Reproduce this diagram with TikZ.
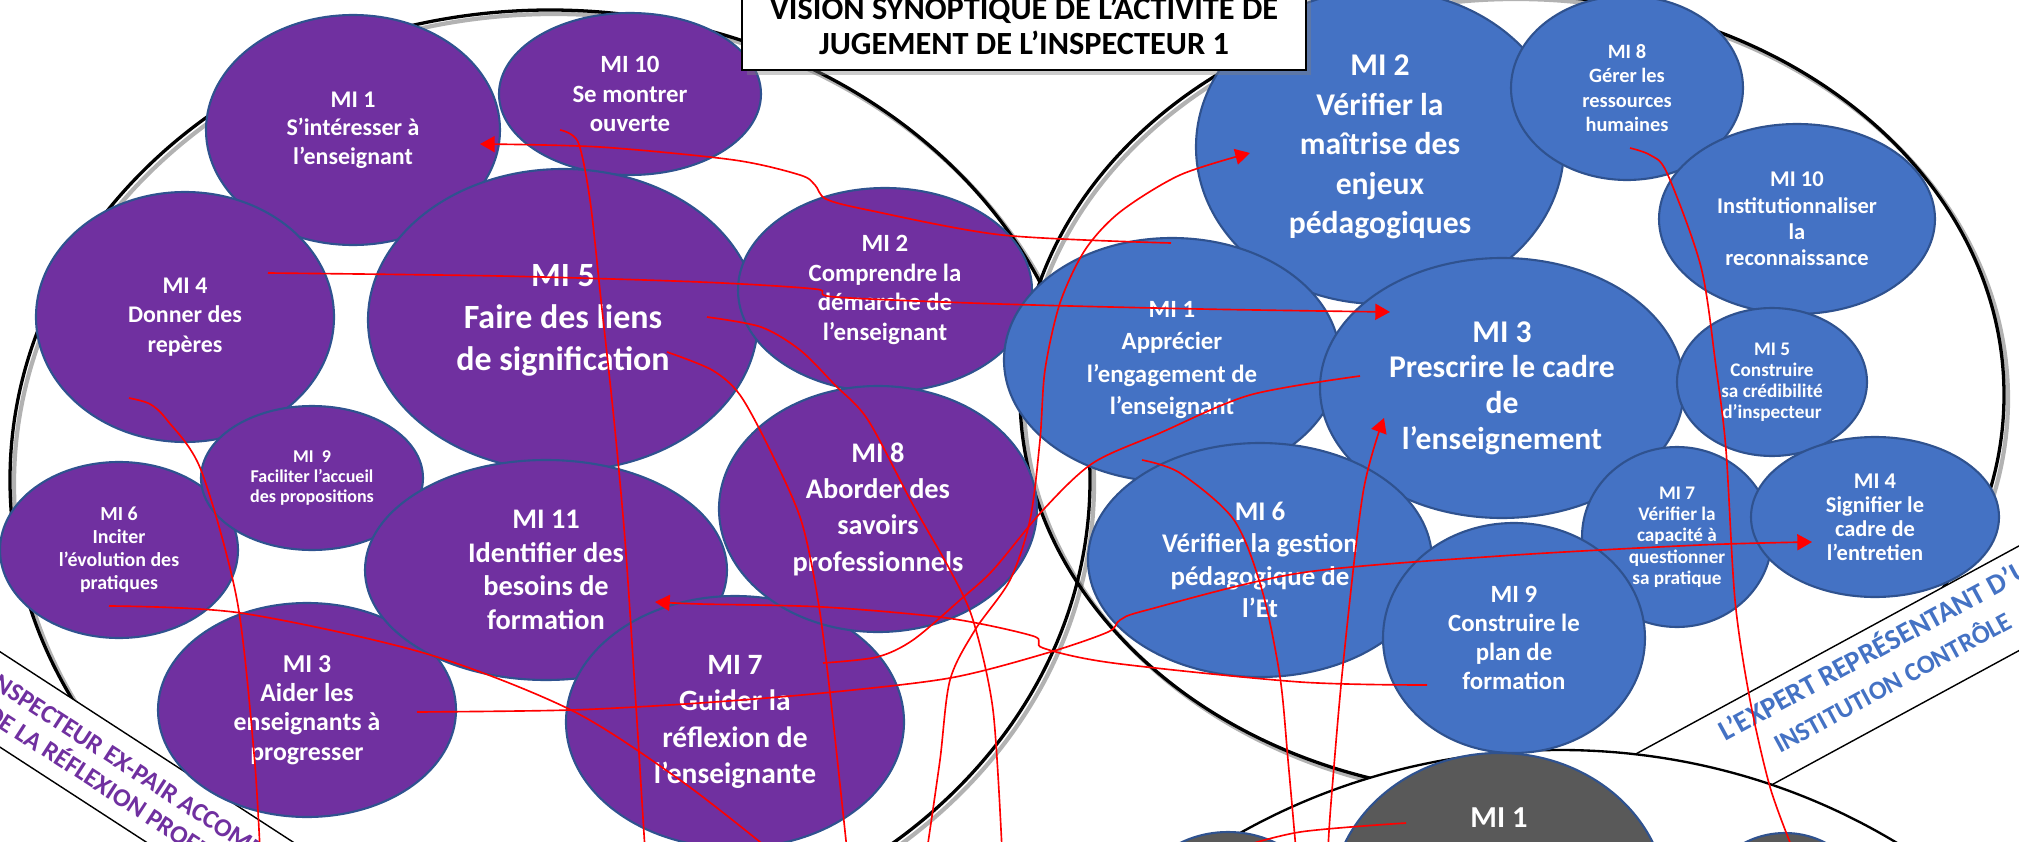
\documentclass[tikz,border=0pt]{standalone}
\usepackage{fontspec}
\setmainfont{Carlito}
\usetikzlibrary{shapes.geometric,arrows.meta,shadows}
\definecolor{purp}{HTML}{7030A0}
\definecolor{blu}{HTML}{4472C4}
\definecolor{gry}{HTML}{595959}
\definecolor{bord}{HTML}{2F528F}
\newdimen\pxu \pxu=0.015cm
\newcommand\fz[2]{\fontsize{#1}{#2}\selectfont\bfseries}

\begin{document}
\begin{tikzpicture}[x=0.015cm,y=-0.015cm,
  mi/.style={ellipse,draw=bord,line width=0.9pt,text=white,align=center,inner sep=0pt},
  pn/.style 2 args={mi,fill=purp,minimum width=#1*\pxu,minimum height=#2*\pxu},
  bn/.style 2 args={mi,fill=blu,minimum width=#1*\pxu,minimum height=#2*\pxu},
  gn/.style 2 args={mi,fill=gry,minimum width=#1*\pxu,minimum height=#2*\pxu},
  big/.style={line width=1.4pt},
  shd/.style={line width=1.8pt,black,opacity=.3,shift={(4,4)}},
  link/.style={red,line width=0.7pt},
  arr/.style={link,-{Triangle[length=0.22cm,width=0.24cm]}},
  band/.style={draw,fill=white,line width=0.6pt,inner sep=0pt,align=center}]
\useasboundingbox (0,0) rectangle (2019,842);
\clip (0,0) rectangle (2019,842);

\draw[shd] (550,480) ellipse [x radius=540,y radius=470];
\draw[shd] (1512,395) ellipse [x radius=492,y radius=400];
\draw[big] (550,480) ellipse [x radius=540,y radius=470];
\draw[big] (1512,395) ellipse [x radius=492,y radius=400];

\node[band,rotate=-33,minimum width=900*\pxu,minimum height=80*\pxu,text=purp,font=\fz{11}{12.8}] (lb) at (161,804) {L’INSPECTEUR EX-PAIR ACCOMPAGNATEUR\\DE LA RÉFLEXION PROFESSIONNELLE};
\node[band,rotate=28.5,minimum width=700*\pxu,minimum height=92*\pxu] (rb) at (1920,652) {};
\node[rotate=28.5,anchor=base west,inner sep=0pt,text=blu,font=\fz{12.3}{14}] (rb1) at (1725,742) {L’EXPERT REPRÉSENTANT D’UNE};
\node[rotate=28.5,anchor=base west,inner sep=0pt,text=blu,font=\fz{11.2}{14}] (rb2) at (1780,754) {INSTITUTION CONTRÔLE};

\draw[fill=white,line width=1pt] (1560,1350) ellipse [x radius=630,y radius=600];

\node[pn={294}{230},font=\fz{10.2}{12.2}] (p1) at (353,130) {MI 1\\S’intéresser à\\l’enseignant};
\node[pn={262}{162},font=\fz{10.6}{12.6}] (p10) at (630,94) {MI 10\\Se montrer\\ouverte};
\node[pn={298}{250},font=\fz{10.2}{12.6}] (p4) at (185,317) {MI 4\\Donner des\\repères};
\node[pn={390}{302},font=\fz{14.5}{17.9}] (p5) at (563,320) {MI 5\\Faire des liens\\de signification};
\node[pn={294}{204},font=\fz{10.6}{12.7}] (p2) at (885,290) {MI 2\\Comprendre la\\démarche de\\l’enseignant};
\node[pn={238}{176},font=\fz{8.5}{9.8}] (p6) at (119,550) {MI 6\\Inciter\\l’évolution des\\pratiques};
\node[pn={222}{144},font=\fz{7.7}{8.5}] (p9) at (312,478) {MI~~9\\Faciliter l’accueil\\des propositions};
\node[pn={298}{214},font=\fz{11}{12.5}] (p3) at (307,710) {MI 3\\Aider les\\enseignants à\\progresser};
\node[pn={362}{220},font=\fz{12.1}{14.3}] (p11) at (546,570) {MI 11\\Identifier des\\besoins de\\formation};
\node[pn={338}{252},font=\fz{12.6}{15.5}] (p7) at (735,722) {MI 7\\Guider la\\réflexion de\\l’enseignante};
\node[pn={318}{246},font=\fz{12.1}{15.5}] (p8) at (878,509) {MI 8\\Aborder des\\savoirs\\professionnels};

\node[bn={368}{314},font=\fz{13.5}{16.9}] (b2) at (1380,147) {MI 2\\Vérifier la\\maîtrise des\\enjeux\\pédagogiques};
\node[bn={232}{184},font=\fz{8.7}{10.5}] (b8) at (1627,88) {MI 8\\Gérer les\\ressources\\humaines};
\node[bn={276}{190},font=\fz{9.6}{11.2}] (b10) at (1797,219) {MI 10\\Institutionnaliser\\la\\reconnaissance};
\node[bn={336}{244},font=\fz{10.6}{13.7}] (b1) at (1172,360) {MI 1\\Apprécier\\l’engagement de\\l’enseignant};
\node[bn={364}{260},font=\fz{13.5}{15.2}] (b3) at (1502,388) {MI 3\\Prescrire le cadre\\de\\l’enseignement};
\node[bn={190}{148},font=\fz{8.2}{9}] (b5) at (1772,382) {MI 5\\Construire\\sa crédibilité\\d’inspecteur};
\node[bn={344}{234},font=\fz{11.5}{13.8}] (b6) at (1260,560) {MI 6\\Vérifier la gestion\\pédagogique de\\l’Et};
\node[bn={190}{180},font=\fz{8.2}{9.1}] (b7) at (1677,537) {MI 7\\Vérifier la\\capacité à\\questionner\\sa pratique};
\node[bn={262}{230},font=\fz{10.6}{12.4}] (b9) at (1514,638) {MI 9\\Construire le\\plan de\\formation};
\node[bn={248}{160},font=\fz{9.6}{10.2}] (b4) at (1875,517) {MI 4\\Signifier le\\cadre de\\l’entretien};

\node[gn={200}{180}] (g2) at (1228,922) {};
\node[gn={180}{184}] (g3) at (1785,925) {};
\node[gn={336}{300}] (g1) at (1499,903) {};
\node[text=white,font=\fz{13}{15}] (g1t) at (1499,818) {MI 1};

\coordinate (l1a) at (1171,243); \coordinate (l1b) at (480,144);
\coordinate (l2a) at (268,273);  \coordinate (l2b) at (1390,312);
\coordinate (l3a) at (560,130);  \coordinate (l3b) at (645,850);
\coordinate (l4a) at (707,317);  \coordinate (l4b) at (1002,850);
\coordinate (l5a) at (667,352);  \coordinate (l5b) at (847,850);
\coordinate (l6a) at (129,398);  \coordinate (l6b) at (260,850);
\coordinate (l7a) at (109,606);  \coordinate (l7b) at (770,850);
\coordinate (l8a) at (417,712);  \coordinate (l8b) at (1812,542);
\coordinate (l9a) at (1427,685); \coordinate (l9b) at (655,602);
\coordinate (l10a) at (927,850); \coordinate (l10b) at (1250,153);
\coordinate (l11a) at (823,663); \coordinate (l11b) at (1360,376);
\coordinate (l12a) at (1142,460); \coordinate (l12b) at (1296,850);
\coordinate (l13a) at (1328,850); \coordinate (l13b) at (1384,418);
\coordinate (l14a) at (1230,850); \coordinate (l14b) at (1406,823);
\coordinate (l15a) at (1630,148); \coordinate (l15b) at (1793,850);

\draw[arr] plot[smooth] coordinates {(l1a) (1002,235) (868,210) (826,199) (815,185) (800,175) (734,160) (600,147) (l1b)};
\draw[arr] plot[smooth] coordinates {(l2a) (500,276) (700,282) (815,289) (835,297) (1000,304) (1200,309) (l2b)};
\draw[link] plot[smooth] coordinates {(l3a) (578,142) (590,200) (601,300) (614,420) (625,540) (635,690) (l3b)};
\draw[link] plot[smooth] coordinates {(l4a) (761,327) (800,350) (835,385) (868,420) (912,503) (950,570) (973,620) (993,710) (l4b)};
\draw[link] plot[smooth] coordinates {(l5a) (712,370) (740,395) (770,450) (801,520) (818,600) (830,693) (l5b)};
\draw[link] plot[smooth] coordinates {(l6a) (150,404) (167,420) (201,470) (237,600) (254,753) (l6b)};
\draw[link] plot[smooth] coordinates {(l7a) (241,613) (424,653) (571,710) (680,780) (l7b)};
\draw[arr] plot[smooth] coordinates {(l8a) (571,710) (700,703) (823,693) (950,678) (1047,653) (1108,632) (1120,620) (1147,610) (1300,573) (1500,556) (1700,545) (l8b)};
\draw[arr] plot[smooth] coordinates {(l9a) (1300,682) (1113,663) (1043,648) (1033,636) (947,618) (823,607) (700,604) (l9b)};
\draw[arr] plot[smooth] coordinates {(l10a) (940,760) (950,680) (975,630) (1010,580) (1030,520) (1040,440) (1045,370) (1060,303) (1085,250) (1120,212) (1180,175) (l10b)};
\draw[link] plot[smooth] coordinates {(l11a) (877,657) (913,640) (960,600) (993,570) (1043,510) (1093,463) (1160,433) (1250,395) (l11b)};
\draw[link] plot[smooth] coordinates {(l12a) (1180,473) (1234,520) (1262,590) (1280,677) (1288,760) (l12b)};
\draw[arr] plot[smooth] coordinates {(l13a) (1331,803) (1343,665) (1363,493) (l13b)};
\draw[link] plot[smooth] coordinates {(l14a) (1300,832) (l14b)};
\draw[link] plot[smooth] coordinates {(l15a) (1650,155) (1667,173) (1701,267) (1716,367) (1726,450) (1735,600) (1750,700) (1770,787) (l15b)};

\node[draw,fill=white,line width=0.9pt,drop shadow={shadow xshift=2pt,shadow yshift=-2pt,opacity=.4},minimum width=564*\pxu,minimum height=90*\pxu,align=center,font=\fz{13.8}{14.9}] (ti) at (1024,25) {VISION SYNOPTIQUE DE L’ACTIVITE DE\\JUGEMENT DE L’INSPECTEUR 1};
\end{tikzpicture}
\end{document}
